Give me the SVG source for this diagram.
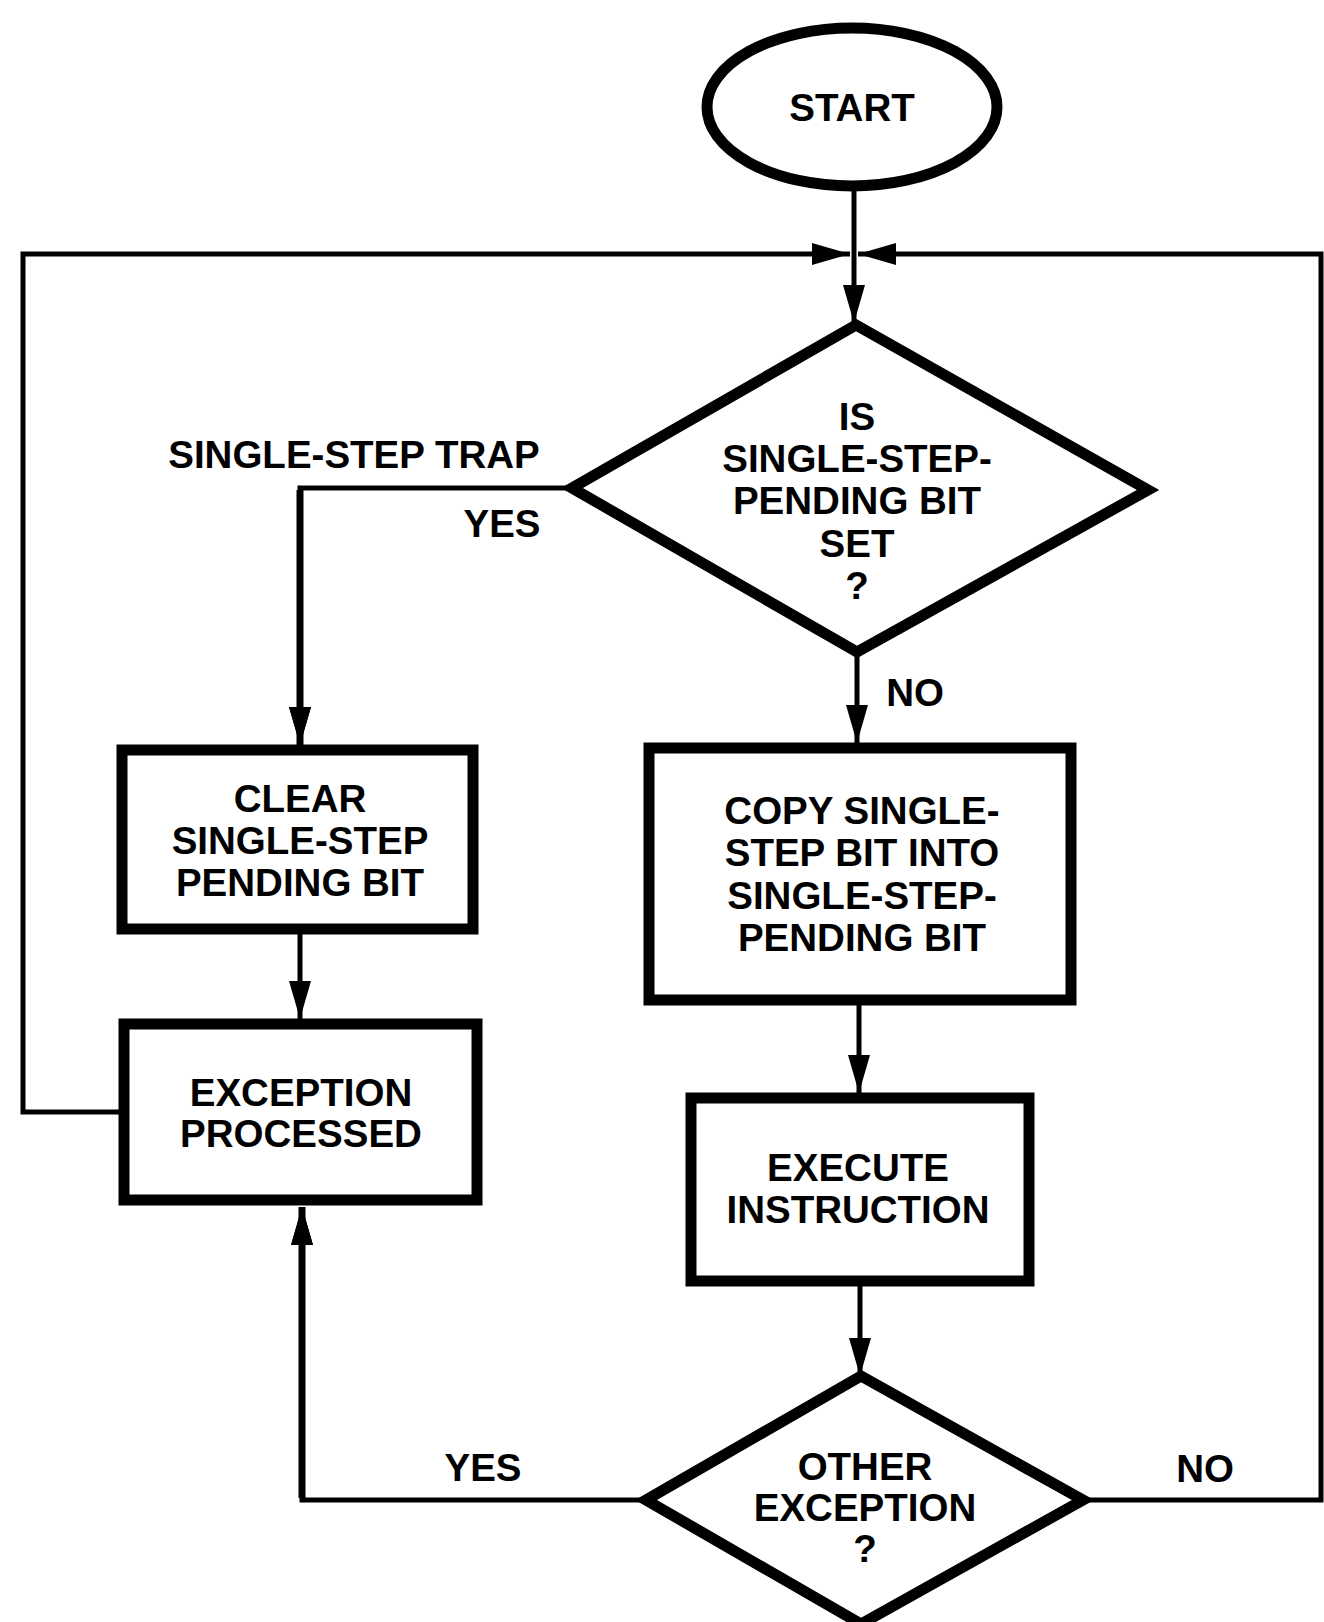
<svg xmlns="http://www.w3.org/2000/svg" width="1324" height="1622" viewBox="0 0 1324 1622">
<style>
  .shape { fill: #ffffff; stroke: #000000; stroke-width: 11; stroke-linejoin: miter; }
  .conn { fill: none; stroke: #000000; stroke-width: 5; stroke-linejoin: miter; }
  .heavy { stroke-width: 7; }
  .t { font-family: "Liberation Sans", Arial, sans-serif; font-weight: bold; font-size: 38.5px; fill: #000000; text-anchor: middle; }
</style>
<defs>
  <marker id="arr" markerUnits="userSpaceOnUse" markerWidth="40" markerHeight="24" refX="38" refY="11" orient="auto">
    <path d="M0,0 L38,11 L0,22 Z" fill="#000000"/>
  </marker>
</defs>
<rect width="1324" height="1622" fill="#ffffff"/>

<g id="connectors">
  <path class="conn" d="M854,191 V323" marker-end="url(#arr)"/>
  <path class="conn" d="M124,1112 H23 V254 H850" marker-end="url(#arr)"/>
  <path class="conn" d="M1083,1500 H1321 V254 H858" marker-end="url(#arr)"/>
  <path class="conn" d="M572,488 H300 V745" marker-end="url(#arr)"/>
  <path class="conn heavy" d="M300,490 V745" marker-end="url(#arr)"/>
  <path class="conn" d="M857,652 V743" marker-end="url(#arr)"/>
  <path class="conn" d="M300,934 V1019" marker-end="url(#arr)"/>
  <path class="conn" d="M859,1005 V1093" marker-end="url(#arr)"/>
  <path class="conn" d="M860,1286 V1376" marker-end="url(#arr)"/>
  <path class="conn" d="M646,1500 H302 V1207" marker-end="url(#arr)"/>
  <path class="conn heavy" d="M302,1498 V1207" marker-end="url(#arr)"/>
</g>

<g id="start">
  <ellipse class="shape" cx="852" cy="107" rx="145" ry="79" stroke-width="10"/>
  <text class="t" x="852" y="121">START</text>
</g>

<g id="decision1">
  <polygon class="shape" points="856,325 1148,490 857,652 572,488" stroke-width="10"/>
  <text class="t" x="857" y="430">IS</text>
  <text class="t" x="857" y="472">SINGLE-STEP-</text>
  <text class="t" x="857" y="514">PENDING BIT</text>
  <text class="t" x="857" y="557">SET</text>
  <text class="t" x="857" y="599">?</text>
</g>

<g id="label-trap">
  <text class="t" x="354" y="468">SINGLE-STEP TRAP</text>
</g>
<g id="label-yes1">
  <text class="t" x="502" y="537">YES</text>
</g>
<g id="label-no1">
  <text class="t" x="915" y="706">NO</text>
</g>

<g id="clear">
  <rect class="shape" x="122" y="750" width="351" height="179"/>
  <text class="t" x="300" y="812">CLEAR</text>
  <text class="t" x="300" y="854">SINGLE-STEP</text>
  <text class="t" x="300" y="896">PENDING BIT</text>
</g>

<g id="exception">
  <rect class="shape" x="124" y="1024" width="353" height="176"/>
  <text class="t" x="301" y="1106">EXCEPTION</text>
  <text class="t" x="301" y="1147">PROCESSED</text>
</g>

<g id="copy">
  <rect class="shape" x="649" y="748" width="422" height="252"/>
  <text class="t" x="862" y="824">COPY SINGLE-</text>
  <text class="t" x="862" y="866">STEP BIT INTO</text>
  <text class="t" x="862" y="909">SINGLE-STEP-</text>
  <text class="t" x="862" y="951">PENDING BIT</text>
</g>

<g id="execute">
  <rect class="shape" x="691" y="1098" width="338" height="183"/>
  <text class="t" x="858" y="1181">EXECUTE</text>
  <text class="t" x="858" y="1223">INSTRUCTION</text>
</g>

<g id="decision2">
  <polygon class="shape" points="861,1376 1083,1500 861,1624 646,1500" stroke-width="10"/>
  <text class="t" x="865" y="1480">OTHER</text>
  <text class="t" x="865" y="1521">EXCEPTION</text>
  <text class="t" x="865" y="1562">?</text>
</g>

<g id="label-yes2">
  <text class="t" x="483" y="1481">YES</text>
</g>
<g id="label-no2">
  <text class="t" x="1205" y="1482">NO</text>
</g>
</svg>
